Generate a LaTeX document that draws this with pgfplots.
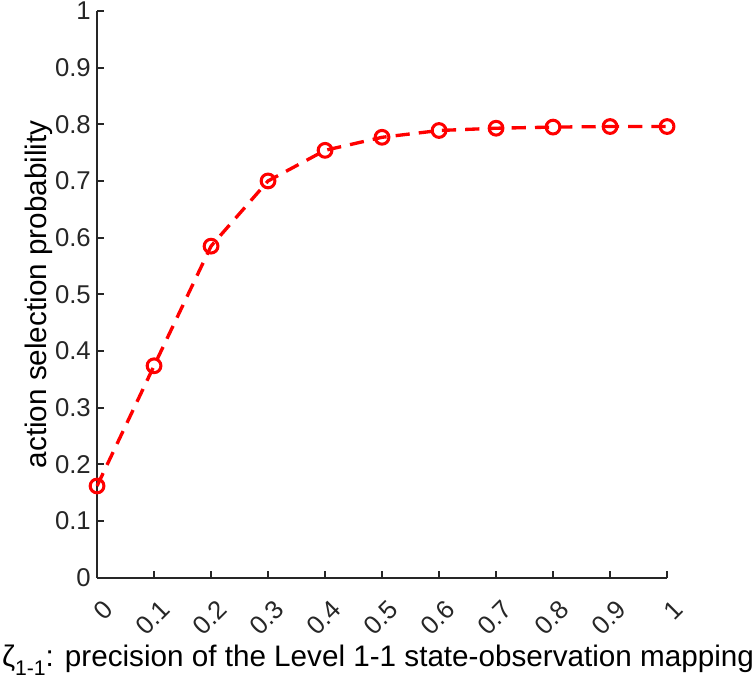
\documentclass[border=0pt]{standalone}
\usepackage{pgfplots}
\pgfplotsset{compat=1.18}
\usepackage{fontspec}
\setmainfont{Liberation Sans}
\setsansfont{Liberation Sans}
\definecolor{axc}{RGB}{38,38,38}
\begin{document}
\fontsize{26}{30}\selectfont
\begin{tikzpicture}[x=1bp,y=1bp]
\begin{axis}[
  scale only axis,
  width=563bp, height=560bp,
  xmin=0, xmax=1, ymin=0, ymax=1,
  axis x line*=bottom, axis y line*=left,
  axis line style={axc, line width=2bp},
  tick style={axc, line width=2bp},
  major tick length=7bp,
  tick align=inside,
  xtick={0,0.1,...,1}, ytick={0,0.1,...,1},
  xticklabels={0,0.1,0.2,0.3,0.4,0.5,0.6,0.7,0.8,0.9,1},
  yticklabels={0,0.1,0.2,0.3,0.4,0.5,0.6,0.7,0.8,0.9,1},
  x tick label style={xshift=12bp, yshift=-26bp, rotate=45, anchor=east, font=\fontsize{25.5}{28}\selectfont, text=axc, inner sep=1bp},
  y tick label style={font=\fontsize{25.5}{28}\selectfont, text=axc, inner sep=2bp, xshift=-4bp},
  xlabel={ζ\raisebox{-0.3em}{\fontsize{21}{21}\selectfont 1-1}: precision of the Level 1-1 state-observation mapping},
  ylabel={action selection probability},
  label style={font=\fontsize{29.4}{33}\selectfont, text=black},
  xlabel style={yshift=-4bp, xshift=-4bp, inner xsep=2bp, inner ysep=3bp},
  ylabel style={yshift=0bp, inner sep=0pt},
  clip=false,
]
\addplot[red, line width=3.3bp, dash pattern=on 14bp off 9bp, mark=o, mark size=6.8bp, mark options={solid, line width=3bp}]
coordinates {(0,0.162)(0.1,0.374)(0.2,0.585)(0.3,0.700)(0.4,0.754)(0.5,0.777)(0.6,0.789)(0.7,0.793)(0.8,0.795)(0.9,0.796)(1,0.796)};
\end{axis}
\end{tikzpicture}
\end{document}
